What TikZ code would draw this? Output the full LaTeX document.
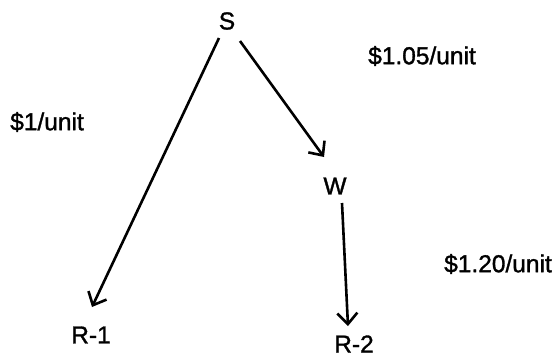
\documentclass[tikz,border=0pt]{standalone}
\usepackage{fontspec}
\setmainfont{Liberation Sans}
\newfontfamily\labelfont[FakeBold=1.3]{Liberation Sans}
\usepackage{tikz}
\usetikzlibrary{arrows.meta,calc}

\begin{document}
\begin{tikzpicture}[
  x=1pt, y=-1pt,
  every node/.style={font=\labelfont\fontsize{24.5}{28}\selectfont},
  site/.style={inner sep=0pt},
  cost/.style={inner sep=0pt},
  arrow/.style={-{Straight Barb[length=11pt, width=20pt, line width=2.6pt]},
                line width=2.6pt, black},
]
\useasboundingbox (0,0) rectangle (558,357);

%% ── Locations ─────────────────────────────────────────────────────────────
\node[site] (S)  at (227, 21)  {S};
\node[site] (W)  at (335, 186) {W};
\node[site] (R1) at (91, 335)  {R-1};
\node[site] (R2) at (354, 344) {R-2};

%% ── Shipping costs ────────────────────────────────────────────────────────
\node[cost] (c1)  at (47, 122)  {\$1/unit};
\node[cost] (c2)  at (422, 56)  {\$1.05/unit};
\node[cost] (c3)  at (498, 264) {\$1.20/unit};

%% ── Routes ────────────────────────────────────────────────────────────────
% S → R-1: direct
\draw[arrow] ($(S)+(-8,17)$) -- ($(R1)+(1,-28)$);

% S → W → R-2
\draw[arrow] ($(S)+(13,20)$) -- ($(W)+(-11,-29)$);
\draw[arrow] ($(W)+(7,17)$) -- ($(R2)+(-6,-18)$);

\end{tikzpicture}
\end{document}
